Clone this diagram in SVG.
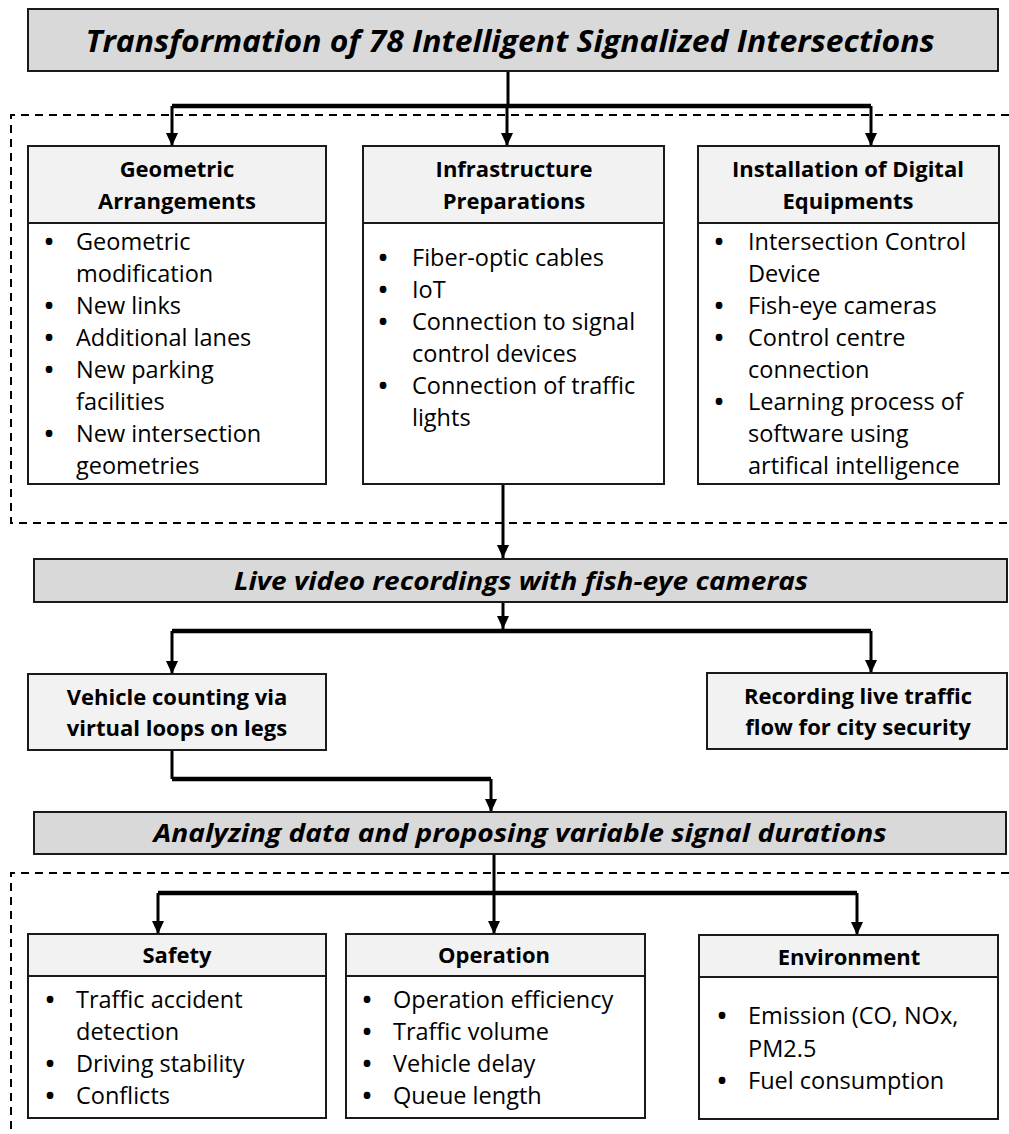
<svg xmlns="http://www.w3.org/2000/svg" width="1009" height="1134" viewBox="0 0 1009 1134">
<defs>
<marker id="arr" viewBox="0 0 13 12" markerWidth="13" markerHeight="12" refX="13" refY="6" orient="auto" markerUnits="userSpaceOnUse">
<path d="M0,0 L13,6 L0,12 z" fill="#000"/>
</marker>
<style>
.box{stroke:#1a1a1a;stroke-width:2;}
.dark{fill:#d9d9d9;}
.light{fill:#f2f2f2;}
.white{fill:#ffffff;}
.ln{fill:none;stroke:#000;stroke-width:3;}
.bar{fill:none;stroke:#000;stroke-width:4.5;}
.dash{fill:none;stroke:#000;stroke-width:2;stroke-dasharray:8 6;}
.ban{font-family:"Open Sans","Liberation Sans",sans-serif;font-weight:bold;font-style:italic;fill:#000;text-anchor:middle;}
.hd{font-family:"Open Sans","Liberation Sans",sans-serif;font-weight:bold;font-size:22px;fill:#000;text-anchor:middle;}
.bd{font-family:"Open Sans","Liberation Sans",sans-serif;font-size:23.5px;fill:#000;}
.bu{font-family:"Open Sans","Liberation Sans",sans-serif;font-size:24px;font-weight:bold;fill:#000;text-anchor:middle;}
</style>
</defs>
<rect width="1009" height="1134" fill="#fff"/>

<g id="groups">
<path class="dash" d="M1009,115 H11 V523 H1009"/>
<path class="dash" d="M1009,873 H11 V1134"/>
</g>

<g id="connectors">
<line class="ln" x1="508" y1="71" x2="508" y2="106"/>
<line class="bar" x1="172" y1="106" x2="871" y2="106"/>
<line class="ln" x1="172" y1="106" x2="172" y2="146" marker-end="url(#arr)"/>
<line class="ln" x1="507" y1="106" x2="507" y2="146" marker-end="url(#arr)"/>
<line class="ln" x1="871" y1="106" x2="871" y2="146" marker-end="url(#arr)"/>
<line class="ln" x1="503" y1="484" x2="503" y2="558" marker-end="url(#arr)"/>
<line class="ln" x1="503" y1="602" x2="503" y2="629" marker-end="url(#arr)"/>
<line class="bar" x1="172" y1="631" x2="871" y2="631"/>
<line class="ln" x1="172" y1="631" x2="172" y2="674" marker-end="url(#arr)"/>
<line class="ln" x1="871" y1="631" x2="871" y2="673" marker-end="url(#arr)"/>
<path class="ln" d="M172,750 V779"/>
<line class="bar" x1="172" y1="779" x2="491" y2="779"/>
<line class="ln" x1="491" y1="779" x2="491" y2="812" marker-end="url(#arr)"/>
<line class="ln" x1="494" y1="854" x2="494" y2="934" marker-end="url(#arr)"/>
<line class="bar" x1="158" y1="893" x2="857" y2="893"/>
<line class="ln" x1="158" y1="893" x2="158" y2="934" marker-end="url(#arr)"/>
<line class="ln" x1="857" y1="893" x2="857" y2="935" marker-end="url(#arr)"/>
</g>

<g id="title">
<rect class="box dark" x="28" y="9" width="970" height="62"/>
<text class="ban" x="510" y="52" font-size="30" textLength="849" lengthAdjust="spacingAndGlyphs">Transformation of 78 Intelligent Signalized Intersections</text>
</g>

<g id="geometric">
<rect class="box white" x="28" y="146" width="298" height="338"/>
<rect class="box light" x="28" y="146" width="298" height="77"/>
<text class="hd" x="177" y="177">Geometric</text>
<text class="hd" x="177" y="209">Arrangements</text>
<text class="bu" x="49" y="250">•</text><text class="bd" x="76" y="250">Geometric</text>
<text class="bd" x="76" y="282">modification</text>
<text class="bu" x="49" y="314">•</text><text class="bd" x="76" y="314">New links</text>
<text class="bu" x="49" y="346">•</text><text class="bd" x="76" y="346">Additional lanes</text>
<text class="bu" x="49" y="378">•</text><text class="bd" x="76" y="378">New parking</text>
<text class="bd" x="76" y="410">facilities</text>
<text class="bu" x="49" y="442">•</text><text class="bd" x="76" y="442">New intersection</text>
<text class="bd" x="76" y="474">geometries</text>
</g>

<g id="infrastructure">
<rect class="box white" x="363" y="146" width="301" height="338"/>
<rect class="box light" x="363" y="146" width="301" height="77"/>
<text class="hd" x="514" y="177">Infrastructure</text>
<text class="hd" x="514" y="209">Preparations</text>
<text class="bu" x="383" y="266">•</text><text class="bd" x="412" y="266">Fiber-optic cables</text>
<text class="bu" x="383" y="298">•</text><text class="bd" x="412" y="298">IoT</text>
<text class="bu" x="383" y="330">•</text><text class="bd" x="412" y="330">Connection to signal</text>
<text class="bd" x="412" y="362">control devices</text>
<text class="bu" x="383" y="394">•</text><text class="bd" x="412" y="394">Connection of traffic</text>
<text class="bd" x="412" y="426">lights</text>
</g>

<g id="installation">
<rect class="box white" x="698" y="146" width="301" height="338"/>
<rect class="box light" x="698" y="146" width="301" height="77"/>
<text class="hd" x="848" y="177">Installation of Digital</text>
<text class="hd" x="848" y="209">Equipments</text>
<text class="bu" x="719" y="250">•</text><text class="bd" x="748" y="250">Intersection Control</text>
<text class="bd" x="748" y="282">Device</text>
<text class="bu" x="719" y="314">•</text><text class="bd" x="748" y="314">Fish-eye cameras</text>
<text class="bu" x="719" y="346">•</text><text class="bd" x="748" y="346">Control centre</text>
<text class="bd" x="748" y="378">connection</text>
<text class="bu" x="719" y="410">•</text><text class="bd" x="748" y="410">Learning process of</text>
<text class="bd" x="748" y="442">software using</text>
<text class="bd" x="748" y="474">artifical intelligence</text>
</g>

<g id="live">
<rect class="box dark" x="34" y="559" width="973" height="43"/>
<text class="ban" x="521" y="590" font-size="25" textLength="574" lengthAdjust="spacingAndGlyphs">Live video recordings with fish-eye cameras</text>
</g>

<g id="vehicle">
<rect class="box light" x="28" y="674" width="298" height="76"/>
<text class="hd" x="177" y="705">Vehicle counting via</text>
<text class="hd" x="177" y="736">virtual loops on legs</text>
</g>

<g id="recording">
<rect class="box light" x="707" y="673" width="300" height="76"/>
<text class="hd" x="858" y="704">Recording live traffic</text>
<text class="hd" x="858" y="735">flow for city security</text>
</g>

<g id="analyzing">
<rect class="box dark" x="34" y="812" width="972" height="42"/>
<text class="ban" x="520" y="842" font-size="25" textLength="733" lengthAdjust="spacingAndGlyphs">Analyzing data and proposing variable signal durations</text>
</g>

<g id="safety">
<rect class="box white" x="28" y="934" width="298" height="184"/>
<rect class="box light" x="28" y="934" width="298" height="42"/>
<text class="hd" x="177" y="963">Safety</text>
<text class="bu" x="50" y="1008">•</text><text class="bd" x="76" y="1008">Traffic accident</text>
<text class="bd" x="76" y="1040">detection</text>
<text class="bu" x="50" y="1072">•</text><text class="bd" x="76" y="1072">Driving stability</text>
<text class="bu" x="50" y="1104">•</text><text class="bd" x="76" y="1104">Conflicts</text>
</g>

<g id="operation">
<rect class="box white" x="346" y="934" width="299" height="184"/>
<rect class="box light" x="346" y="934" width="299" height="42"/>
<text class="hd" x="494" y="963">Operation</text>
<text class="bu" x="367" y="1008">•</text><text class="bd" x="393" y="1008">Operation efficiency</text>
<text class="bu" x="367" y="1040">•</text><text class="bd" x="393" y="1040">Traffic volume</text>
<text class="bu" x="367" y="1072">•</text><text class="bd" x="393" y="1072">Vehicle delay</text>
<text class="bu" x="367" y="1104">•</text><text class="bd" x="393" y="1104">Queue length</text>
</g>

<g id="environment">
<rect class="box white" x="699" y="935" width="299" height="184"/>
<rect class="box light" x="699" y="935" width="299" height="42"/>
<text class="hd" x="849" y="965">Environment</text>
<text class="bu" x="722" y="1024">•</text><text class="bd" x="748" y="1024">Emission (CO, NOx,</text>
<text class="bd" x="748" y="1057">PM2.5</text>
<text class="bu" x="722" y="1089">•</text><text class="bd" x="748" y="1089">Fuel consumption</text>
</g>
</svg>
